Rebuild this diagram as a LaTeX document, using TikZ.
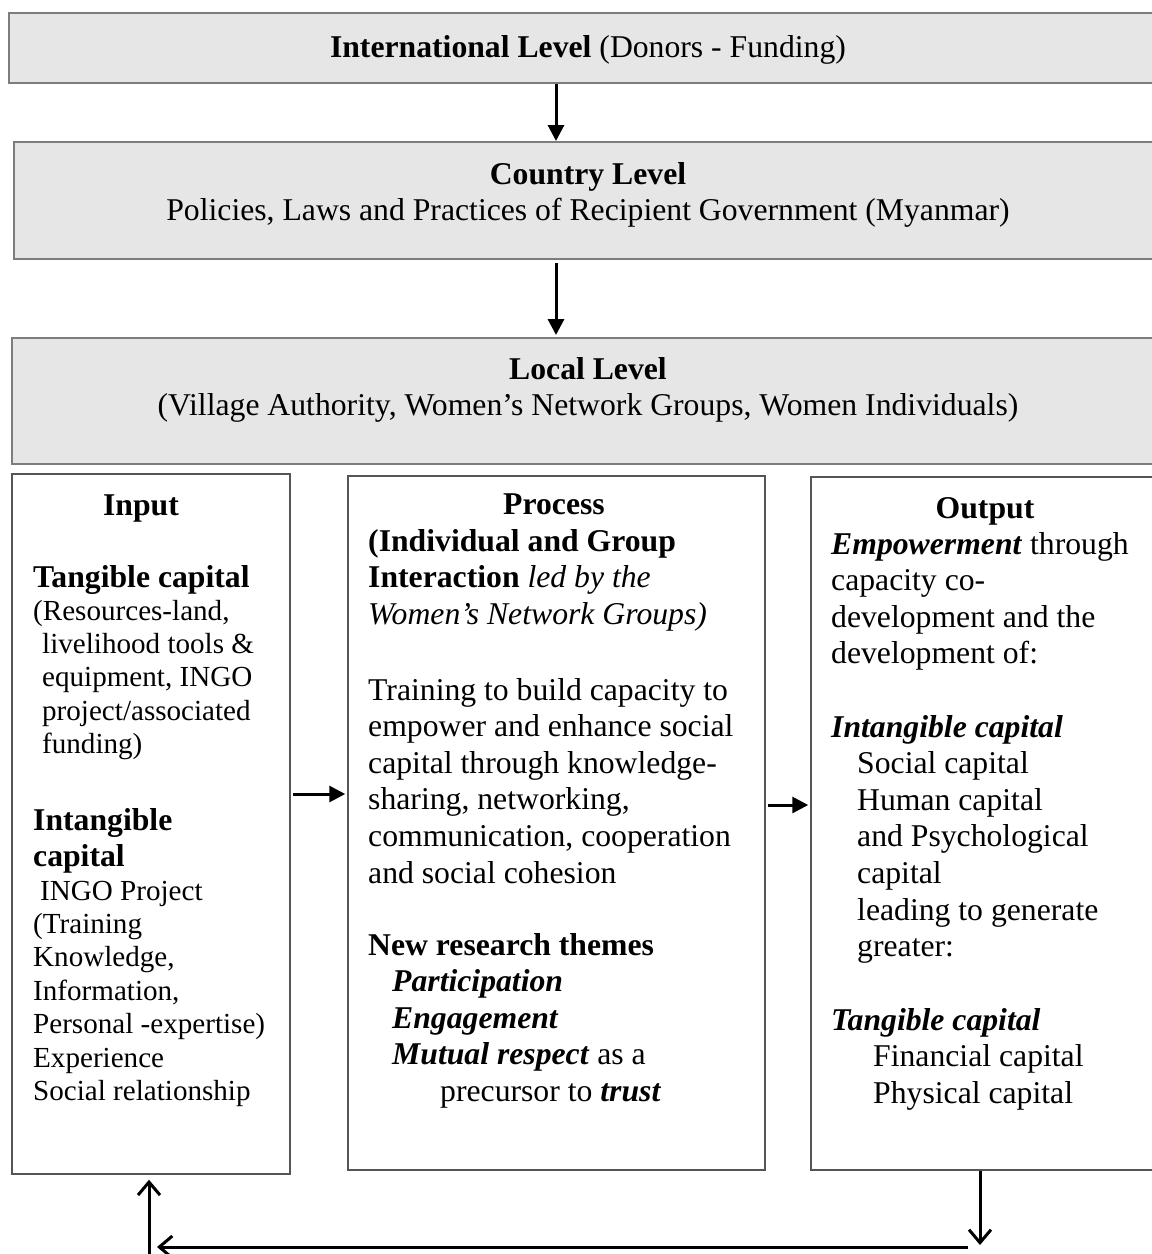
\documentclass[tikz,border=0pt]{standalone}
\usepackage{fontspec}
\setmainfont{Liberation Serif}
\usetikzlibrary{arrows.meta}

\definecolor{levelfill}{RGB}{231,230,230}
\definecolor{levelline}{RGB}{125,125,125}
\definecolor{stageline}{RGB}{85,85,85}

% 12pt and 11pt text, scaled to the drawing units
\newcommand{\sizeA}{\fontsize{31.7}{36.6}\selectfont}
\newcommand{\sizeB}{\fontsize{29.1}{33.4}\selectfont}

% multi-line nodes are placed by the baseline of their last line
\tikzset{
  levelbox/.style={draw=levelline, line width=2pt, fill=levelfill, inner sep=0pt, rectangle},
  stagebox/.style={draw=stageline, line width=1.5pt, fill=white, inner sep=0pt, rectangle},
  centertext/.style={inner sep=0pt, anchor=base, align=center, font=\sizeA},
  lefttext/.style={inner sep=0pt, anchor=base west, align=left, font=\sizeA},
  smalltext/.style={inner sep=0pt, anchor=base west, align=left, font=\sizeB},
  solidarrow/.style={line width=3pt, -{Triangle[length=16pt, width=16pt]}},
  openarrow/.style={line width=3pt, -{Straight Barb[length=13pt, width=22pt]}}
}

\begin{document}
\begin{tikzpicture}[x=1pt, y=-1pt]
\useasboundingbox (0,0) rectangle (1152,1254);

% the three levels
\node[levelbox, minimum width=1147, minimum height=70] (intl) at (582.5,48) {};
\node[levelbox, minimum width=1142, minimum height=117] (country) at (585,200.5) {};
\node[levelbox, minimum width=1144, minimum height=126] (local) at (584,401) {};

% input, process and output stages
\node[stagebox, minimum width=278, minimum height=700] (input) at (151,824) {};
\node[stagebox, minimum width=417, minimum height=694] (process) at (556.5,823) {};
\node[stagebox, minimum width=345, minimum height=693] (output) at (983.5,823.5) {};

% level texts
\node[centertext] (intlT) at (588,57) {\textbf{International Level} (Donors - Funding)};
\node[centertext] (countryT) at (588,220.6) {\textbf{Country Level}\\Policies, Laws and Practices of Recipient Government (Myanmar)};
\node[centertext] (localT) at (588,415.6) {\textbf{Local Level}\\(Village Authority, Women’s Network Groups, Women Individuals)};

% input texts
\node[centertext] (inH) at (141,515) {\textbf{Input}};
\node[lefttext] (inTh) at (33,587) {\textbf{Tangible capital}};
\node[smalltext] (inTb) at (33,753.6) {(Resources-land,\\\hspace*{9pt}livelihood tools \&\\\hspace*{9pt}equipment, INGO\\\hspace*{9pt}project/associated\\\hspace*{9pt}funding)};
\node[lefttext] (inIh) at (33,866.6) {\textbf{Intangible}\\\textbf{capital}};
\node[smalltext] (inIb) at (33,1100.4) {\hspace*{7pt}INGO Project\\(Training\\Knowledge,\\Information,\\Personal -expertise)\\Experience\\Social relationship};

% process texts
\node[centertext] (prH) at (554,514) {\textbf{Process}};
\node[lefttext] (prA) at (368,624.2) {\textbf{(Individual and Group}\\\textbf{Interaction} \textit{led by the}\\\textit{Women’s Network Groups)}};
\node[lefttext] (prB) at (368,883) {Training to build capacity to\\empower and enhance social\\capital through knowledge-\\sharing, networking,\\communication, cooperation\\and social cohesion};
\node[lefttext] (prC) at (368,1101.4) {\textbf{New research themes}\\\hspace*{24pt}\textbf{\textit{Participation}}\\\hspace*{24pt}\textbf{\textit{Engagement}}\\\hspace*{24pt}\textbf{\textit{Mutual respect}} as a\\\hspace*{72pt}precursor to \textbf{\textit{trust}}};

% output texts
\node[centertext] (outH) at (985,518) {\textbf{Output}};
\node[lefttext] (outA) at (831,663.8) {\textbf{\textit{Empowerment}} through\\capacity co-\\development and the\\development of:};
\node[lefttext] (outB) at (831,956.6) {\textbf{\textit{Intangible capital}}\\\hspace*{26pt}Social capital\\\hspace*{26pt}Human capital\\\hspace*{26pt}and Psychological\\\hspace*{26pt}capital\\\hspace*{26pt}leading to generate\\\hspace*{26pt}greater:};
\node[lefttext] (outC) at (831,1103.2) {\textbf{\textit{Tangible capital}}\\\hspace*{42pt}Financial capital\\\hspace*{42pt}Physical capital};

% connectors between levels
\coordinate (axis) at (556,0);
\draw[solidarrow] (intl.south -| axis) -- (country.north -| axis);
\draw[solidarrow, shorten <=3pt, shorten >=2pt] (country.south -| axis) -- (local.north -| axis);

% connectors between stages
\coordinate (row1) at (0,794);
\coordinate (row2) at (0,805);
\draw[solidarrow, shorten <=2pt, shorten >=2pt] (input.east |- row1) -- (process.west |- row1);
\draw[solidarrow, shorten <=2pt, shorten >=2pt] (process.east |- row2) -- (output.west |- row2);

% feedback loop from output back to input
\coordinate (loopD) at (980,1245);
\coordinate (loopR) at (968,1247);
\coordinate (loopL) at (157,1247);
\coordinate (loopB) at (149,1256);
\draw[openarrow] (output.south -| loopD) -- (loopD);
\draw[openarrow] (loopR) -- (loopL);
\draw[openarrow, shorten >=5pt] (loopB) -- (input.south -| loopB);
\end{tikzpicture}
\end{document}
